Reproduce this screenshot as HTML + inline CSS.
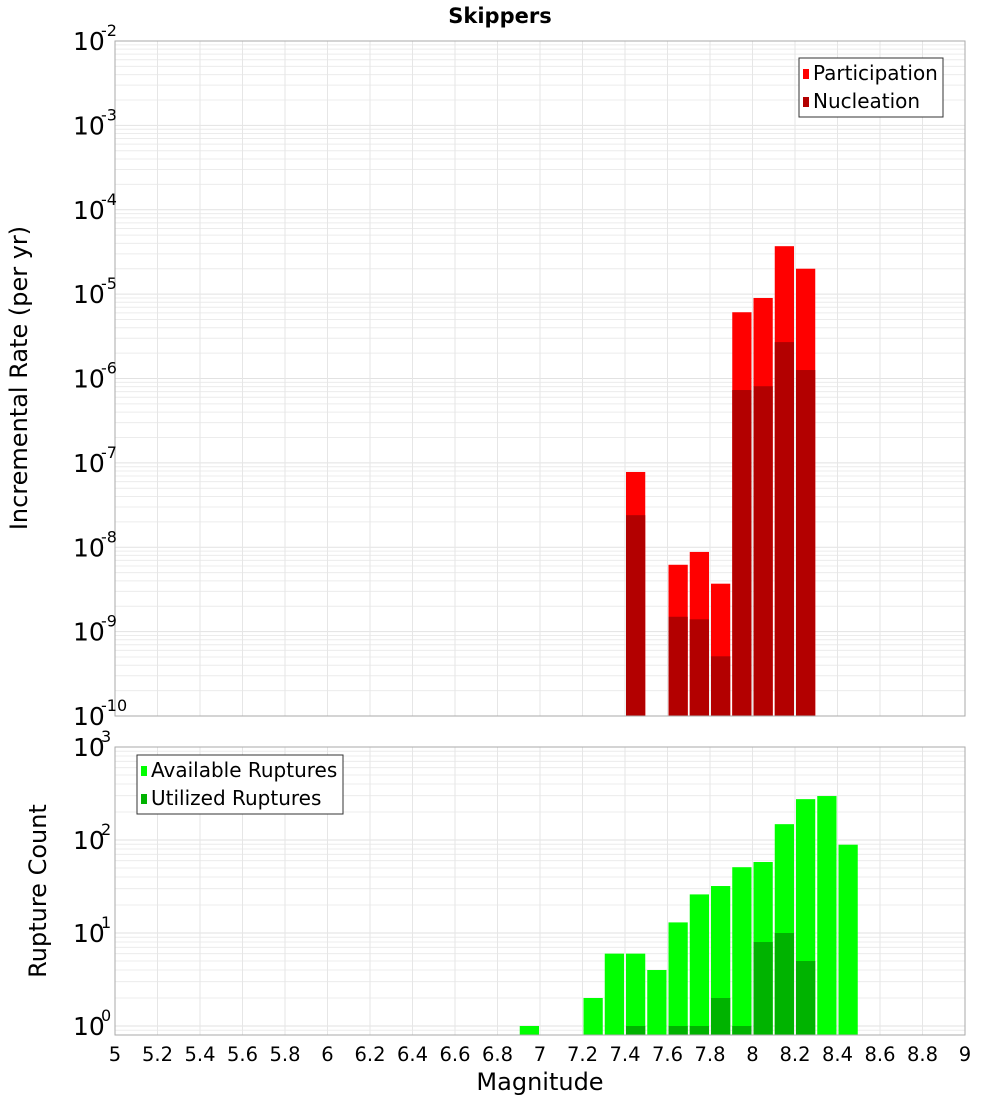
<!DOCTYPE html>
<html><head><meta charset="utf-8"><style>
body{margin:0;background:#fff;}
svg{display:block;font-family:"DejaVu Sans","Liberation Sans",sans-serif;}
</style></head><body>
<svg id="chart" width="1000" height="1100" viewBox="0 0 1000 1100" xmlns="http://www.w3.org/2000/svg">
<text x="500" y="23" text-anchor="middle" font-size="21" font-weight="bold">Skippers</text>
<g id="gTop"></g><g id="gBot"></g>
<text transform="translate(27,378) rotate(-90)" text-anchor="middle" font-size="24">Incremental Rate (per yr)</text>
<text transform="translate(46,891) rotate(-90)" text-anchor="middle" font-size="24">Rupture Count</text>
<text x="540" y="1090" text-anchor="middle" font-size="24">Magnitude</text>
</svg>
<script>
const binCenters = [7.45,7.65,7.75,7.85,7.95,8.05,8.15,8.25];
const participation = [7.8e-8,6.2e-9,8.8e-9,3.7e-9,6.1e-6,9e-6,3.7e-5,2.0e-5];
const nucleation = [2.4e-8,1.5e-9,1.4e-9,5.1e-10,7.3e-7,8.1e-7,2.7e-6,1.26e-6];
const countBins = [6.95,7.25,7.35,7.45,7.55,7.65,7.75,7.85,7.95,8.05,8.15,8.25,8.35,8.45];
const available = [1,2,6,6,4,13,26,32,51,58,148,275,297,89];
const utilized = [0,0,0,1,0,1,1,2,1,8,10,5,0,0];
const xTicks = [5,5.2,5.4,5.6,5.8,6,6.2,6.4,6.6,6.8,7,7.2,7.4,7.6,7.8,8,8.2,8.4,8.6,8.8,9];
const topDecades = [-2,-3,-4,-5,-6,-7,-8,-9,-10];
const botDecades = [3,2,1,0];

const NS="http://www.w3.org/2000/svg";
const PL=115,PR=965;
const xs=m=>PL+(m-5)*(PR-PL)/4;
const T1=41,B1=716;
const yTop=v=>T1+84.375*(-2-Math.log10(v));
const T2=747,B2=1035;
const yBot=v=>1026-93*Math.log10(v);
function mk(p,tag,a){const e=document.createElementNS(NS,tag);for(const k in a)e.setAttribute(k,a[k]);p.appendChild(e);return e;}
const gTop=document.getElementById('gTop'), gBot=document.getElementById('gBot');

function grid(g,T,B,decs,yf,name){
  for(const d of decs){for(let k=1;k<10;k++){const y=yf(k*Math.pow(10,d));if(y<T-0.5||y>B+0.5)continue;
    const l=mk(g,'line',{x1:PL,x2:PR,y1:y,y2:y,stroke:k===1?'#e2e2e2':'#ececec','stroke-width':1});
    
    }}
  for(const t of xTicks){const l=mk(g,'line',{x1:xs(t),x2:xs(t),y1:T,y2:B,stroke:'#e6e6e6','stroke-width':1});
    
    }
}
function ylabels(g,decs,yf,name){
  for(const d of decs){const y=yf(Math.pow(10,d));
    const t=mk(g,'text',{x:73,y:y+9,'font-size':25});
    
    
    t.textContent='10';
    const s=mk(g,'text',{x:101,y:y-5,'font-size':16});
    
    
    s.textContent=String(d);}
}
grid(gTop,T1,B1,[-10,-9,-8,-7,-6,-5,-4,-3,-2],yTop,'top');
grid(gBot,T2,B2,[-1,0,1,2,3],yBot,'bottom');

const bw=(PR-PL)/40;
binCenters.forEach((m,i)=>{
  const y1=yTop(participation[i]);
  const r=mk(gTop,'rect',{x:xs(m)-bw/2+1,y:y1,width:bw-2,height:B1-y1,fill:'#ff0000'});
  
  
  const y2=yTop(nucleation[i]);
  const n=mk(gTop,'rect',{x:xs(m)-bw/2+1,y:y2,width:bw-2,height:B1-y2,fill:'#b30000'});
  
  
});
countBins.forEach((m,i)=>{
  const y1=Math.max(T2,yBot(available[i]));
  const r=mk(gBot,'rect',{x:xs(m)-bw/2+1,y:y1,width:bw-2,height:B2-y1,fill:'#00ff00'});
  
  
  if(utilized[i]>0){const y2=yBot(utilized[i]);
    const n=mk(gBot,'rect',{x:xs(m)-bw/2+1,y:y2,width:bw-2,height:B2-y2,fill:'#00b300'});
    
    }
});
const f1=mk(gTop,'rect',{x:PL,y:T1,width:PR-PL,height:B1-T1,fill:'none',stroke:'#aaa'});


const f2=mk(gBot,'rect',{x:PL,y:T2,width:PR-PL,height:B2-T2,fill:'none',stroke:'#aaa'});


ylabels(gTop,topDecades,yTop,'top');
ylabels(gBot,botDecades,yBot,'bottom');
for(const t of xTicks){const e=mk(gBot,'text',{x:xs(t),y:1061,'font-size':19.5,'text-anchor':'middle'});
  
  
  e.textContent=String(t);}

function legend(g,X,Y,W,items,name){
  const b=mk(g,'rect',{x:X,y:Y,width:W,height:59,fill:'#fff',stroke:'#333','stroke-width':1});
  
  
  items.forEach((it,i)=>{
    const s=mk(g,'rect',{x:X+4,y:Y+11+i*28,width:6,height:10,fill:it[1]});
    
    
    const t=mk(g,'text',{x:X+14,y:Y+22+i*28,'font-size':20});
    
    
    t.textContent=it[0];});
}
legend(gTop,799,58,144,[['Participation','#ff0000'],['Nucleation','#b30000']],'rate-legend');
legend(gBot,137,755,206,[['Available Ruptures','#00ff00'],['Utilized Ruptures','#00b300']],'count-legend');
</script>
</body></html>
